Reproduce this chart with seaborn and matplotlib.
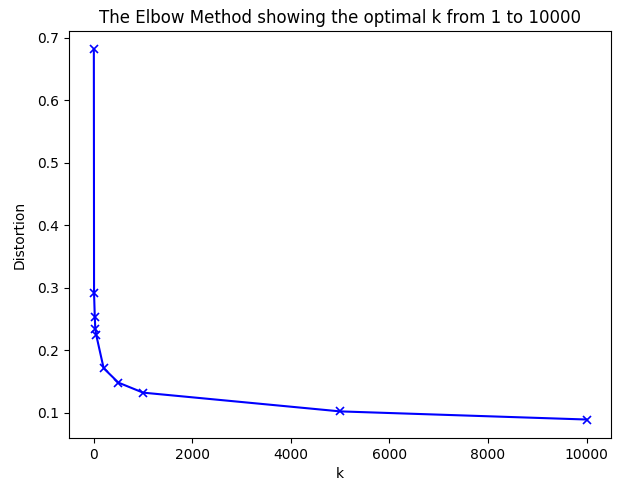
import pandas as pd
import matplotlib
matplotlib.use('Agg')
import matplotlib.pyplot as plt
import seaborn as sns

# Data elbow method
k_values = [1, 5, 20, 30, 50, 200, 500, 1000, 5000, 10000]
distortions = [0.681, 0.291, 0.253, 0.234, 0.224, 0.171, 0.148, 0.132, 0.102, 0.089]

df = pd.DataFrame({'k': k_values, 'Distortion': distortions})

fig, ax = plt.subplots(figsize=(6.18, 4.84), dpi=100)
fig.subplots_adjust(left=0.112, right=0.989, top=0.936, bottom=0.095)

sns.lineplot(x='k', y='Distortion', data=df, ax=ax, color='blue',
             marker='x', markersize=6, markeredgecolor='blue',
             markeredgewidth=1.2, linewidth=1.5)

ax.set_xlabel('k')
ax.set_ylabel('Distortion', labelpad=8)
ax.set_title('The Elbow Method showing the optimal k from 1 to 10000')

plt.savefig('out.png', dpi=100)
plt.close()
